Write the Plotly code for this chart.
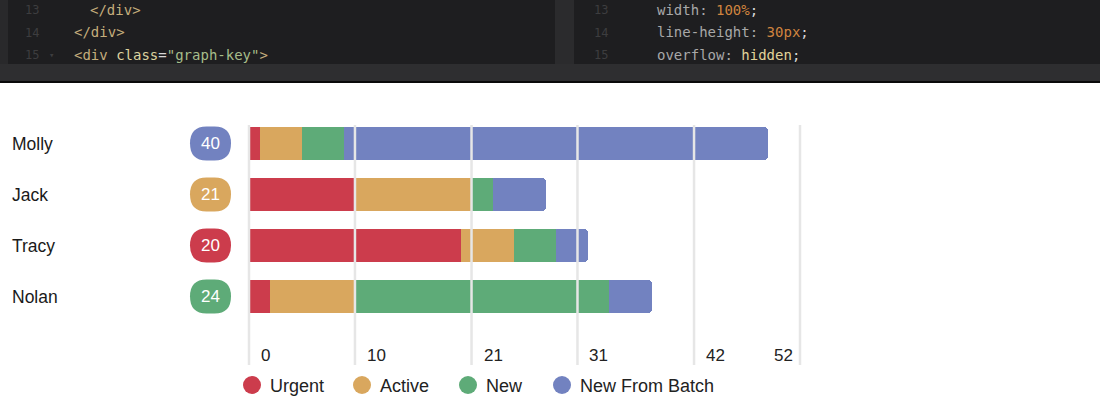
import plotly.graph_objects as go

# ---------------- data ----------------
names = ["Molly", "Jack", "Tracy", "Nolan"]
series = ["Urgent", "Active", "New", "New From Batch"]
urgent = [1, 10, 20, 2]
active = [4, 11, 5, 8]
new = [4, 2, 4, 24]
batch = [40, 5, 3, 4]
badge_values = [40, 21, 20, 24]
badge_series = ["New From Batch", "Active", "Urgent", "New"]
tick_values = [0, 10, 21, 31, 42, 52]
tick_labels = ["0", "10", "21", "31", "42", "52"]

colors = {
    "Urgent": "#cc3c4c",
    "Active": "#d9a75e",
    "New": "#5eab78",
    "New From Batch": "#7282c0",
}

W, H = 1100, 397
X0_PX, X52_PX = 249, 800
K = (X52_PX - X0_PX) / 52.0
ROW0_PX, ROW_STEP = 143.5, 51.0


def px(x):
    return x / W


def py(y):
    return 1 - y / H


fig = go.Figure()
for s, vals in zip(series, [urgent, active, new, batch]):
    fig.add_trace(go.Bar(
        y=names, x=vals, orientation="h", name=s,
        marker=dict(color=colors[s], line=dict(width=0), cornerradius=4),
        width=0.65, showlegend=False, hoverinfo="x+name",
    ))

shapes = []
annotations = []

# ---- code editor strip at top ----
shapes.append(dict(type="rect", xref="paper", yref="paper", x0=0, x1=1, y0=py(64), y1=py(0),
                   fillcolor="#1e1e20", line=dict(width=0), layer="below"))
shapes.append(dict(type="rect", xref="paper", yref="paper", x0=0, x1=px(8), y0=py(64), y1=py(0),
                   fillcolor="#29292b", line=dict(width=0), layer="below"))
shapes.append(dict(type="rect", xref="paper", yref="paper", x0=px(555), x1=px(574), y0=py(64), y1=py(0),
                   fillcolor="#2b2b2d", line=dict(width=0), layer="below"))
shapes.append(dict(type="rect", xref="paper", yref="paper", x0=0, x1=1, y0=py(81), y1=py(64),
                   fillcolor="#2e2e30", line=dict(width=0), layer="below"))
shapes.append(dict(type="rect", xref="paper", yref="paper", x0=0, x1=1, y0=py(83), y1=py(81),
                   fillcolor="#0a0a0a", line=dict(width=0), layer="below"))

MONO = "DejaVu Sans Mono"
TAG = "#c4ad7c"
ATTR = "#dcd39f"
STR = "#a6bd8a"
PROP = "#a8a8a8"
NUM = "#d0843f"
VAL = "#e2d49a"
PUN = "#d8d8d8"
LN = "#3d3d3f"

code_left = [
    (88, 10, f'<span style="color:{TAG}">&lt;/div&gt;</span>'),
    (72, 32, f'<span style="color:{TAG}">&lt;/div&gt;</span>'),
    (72, 55, f'<span style="color:{TAG}">&lt;div</span> <span style="color:{ATTR}">class</span>'
             f'<span style="color:{PUN}">=</span><span style="color:{STR}">"graph-key"</span>'
             f'<span style="color:{TAG}">&gt;</span>'),
]
code_right = [
    (655, 10, f'<span style="color:{PROP}">width:</span> <span style="color:{NUM}">100%</span>'
              f'<span style="color:{PUN}">;</span>'),
    (655, 32, f'<span style="color:{PROP}">line-height:</span> <span style="color:{NUM}">30px</span>'
              f'<span style="color:{PUN}">;</span>'),
    (655, 55, f'<span style="color:{PROP}">overflow:</span> <span style="color:{VAL}">hidden</span>'
              f'<span style="color:{PUN}">;</span>'),
]
for x, y, t in code_left + code_right:
    annotations.append(dict(xref="paper", yref="paper", x=px(x), y=py(y), text=t, showarrow=False,
                            xanchor="left", yanchor="middle", font=dict(family=MONO, size=14, color=TAG)))
for i, n in enumerate(["13", "14", "15"]):
    for lx in (23, 592):
        annotations.append(dict(xref="paper", yref="paper", x=px(lx), y=py(10 + i * 22.5), text=n,
                                showarrow=False, xanchor="left", yanchor="middle",
                                font=dict(family=MONO, size=12, color=LN)))
annotations.append(dict(xref="paper", yref="paper", x=px(47), y=py(55), text="▾", showarrow=False,
                        xanchor="left", yanchor="middle", font=dict(family=MONO, size=9, color=LN)))

# ---- gridlines (drawn above the bars) ----
for v in tick_values:
    shapes.append(dict(type="line", xref="x", yref="paper", x0=v, x1=v, y0=py(365), y1=py(125),
                       line=dict(color="#e6e6e6", width=2.5), layer="above"))

# ---- tick labels ----
for i, (v, lab) in enumerate(zip(tick_values, tick_labels)):
    last = i == len(tick_values) - 1
    annotations.append(dict(xref="x", yref="paper", x=v, y=py(355), text=lab, showarrow=False,
                            xanchor="right" if last else "left", yanchor="middle",
                            xshift=-5 if last else 10,
                            font=dict(family="Liberation Sans", size=17, color="#222222")))

# ---- row names and badges ----
for i, (n, bv, bs) in enumerate(zip(names, badge_values, badge_series)):
    cy = ROW0_PX + ROW_STEP * i
    annotations.append(dict(xref="paper", yref="paper", x=px(10), y=py(cy), text=n, showarrow=False,
                            xanchor="left", yanchor="middle",
                            font=dict(family="Liberation Sans", size=17.5, color="#1a1a1a")))
    x0, x1, y0, y1, r = 190, 231, cy - 17, cy + 17, 16.5
    path = (f"M {px(x0 + r)} {py(y0)} L {px(x1 - r)} {py(y0)} "
            f"Q {px(x1)} {py(y0)} {px(x1)} {py(cy)} "
            f"Q {px(x1)} {py(y1)} {px(x1 - r)} {py(y1)} "
            f"L {px(x0 + r)} {py(y1)} Q {px(x0)} {py(y1)} {px(x0)} {py(cy)} "
            f"Q {px(x0)} {py(y0)} {px(x0 + r)} {py(y0)} Z")
    shapes.append(dict(type="path", xref="paper", yref="paper", path=path,
                       fillcolor=colors[bs], line=dict(width=0)))
    annotations.append(dict(xref="paper", yref="paper", x=px(210.5), y=py(cy), text=str(bv),
                            showarrow=False, xanchor="center", yanchor="middle",
                            font=dict(family="Liberation Sans", size=17, color="white")))

# ---- legend ----
legend_x = [252, 362, 468, 562]
for s, lx in zip(series, legend_x):
    r = 9
    shapes.append(dict(type="circle", xref="paper", yref="paper", x0=px(lx - r), x1=px(lx + r),
                       y0=py(385 + r), y1=py(385 - r), fillcolor=colors[s], line=dict(width=0)))
    annotations.append(dict(xref="paper", yref="paper", x=px(lx + 16), y=py(386), text=s,
                            showarrow=False, xanchor="left", yanchor="middle",
                            font=dict(family="Liberation Sans", size=18, color="#222222")))

fig.update_layout(
    width=W, height=H, margin=dict(l=0, r=0, t=0, b=0),
    paper_bgcolor="white", plot_bgcolor="rgba(0,0,0,0)",
    barmode="stack", bargap=0,
    xaxis=dict(range=[-X0_PX / K, (W - X0_PX) / K], domain=[0, 1], showgrid=False, zeroline=False,
               showticklabels=False, fixedrange=True),
    yaxis=dict(categoryorder="array", categoryarray=names,
               range=[(H - ROW0_PX) / ROW_STEP, -ROW0_PX / ROW_STEP], domain=[0, 1],
               showgrid=False, zeroline=False, showticklabels=False, fixedrange=True),
    shapes=shapes, annotations=annotations, showlegend=False,
)

fig.write_html("out.html", config={"displayModeBar": False},
               post_script="document.body.style.margin='0';document.body.style.overflow='hidden';")
